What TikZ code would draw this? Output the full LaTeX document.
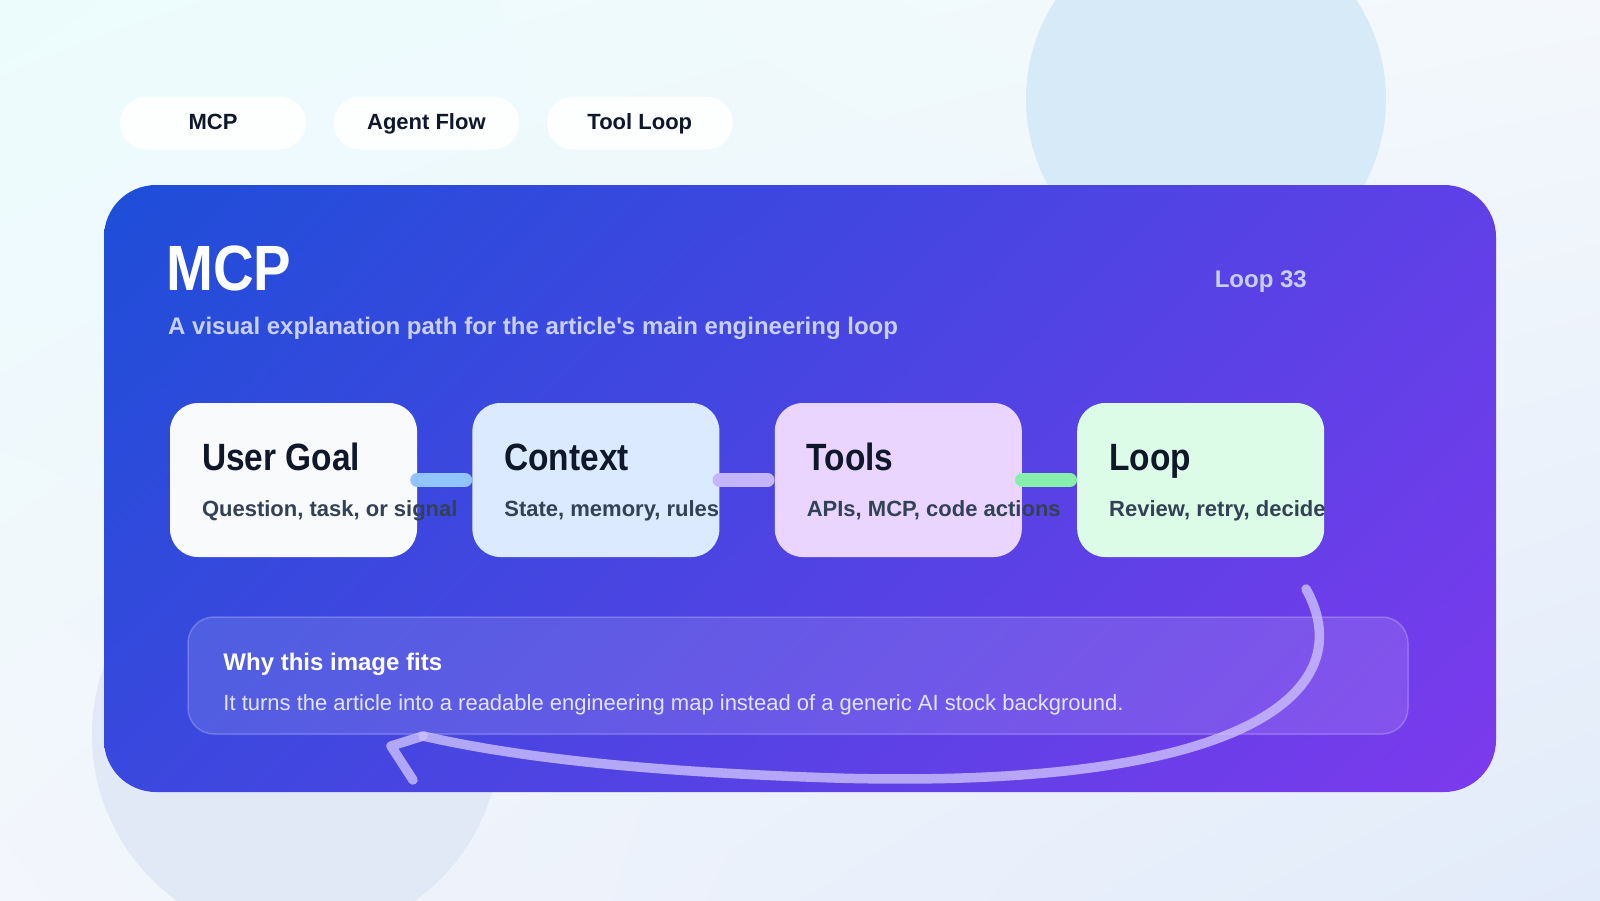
\documentclass[tikz,border=0pt]{standalone}
\usepackage{fontspec}
\setmainfont{Liberation Sans}
\newfontfamily\headfont{Liberation Sans}[FakeStretch=0.88]
\usetikzlibrary{positioning,shadings}

\definecolor{bgUL}{RGB}{236,252,253}
\definecolor{bgUR}{RGB}{244,248,252}
\definecolor{bgLL}{RGB}{243,246,252}
\definecolor{bgLR}{RGB}{226,235,250}
\definecolor{blobA}{RGB}{214,235,247}
\definecolor{blobB}{RGB}{225,233,247}
\definecolor{panUL}{RGB}{29,78,216}
\definecolor{panUR}{RGB}{95,64,231}
\definecolor{panLL}{RGB}{58,72,222}
\definecolor{panLR}{RGB}{124,58,237}
\definecolor{ink}{RGB}{15,23,42}
\definecolor{slate}{RGB}{51,65,85}
\definecolor{lavtext}{RGB}{200,208,250}
\definecolor{softtext}{RGB}{226,228,255}
\definecolor{goalfill}{RGB}{248,250,252}
\definecolor{ctxfill}{RGB}{219,234,254}
\definecolor{toolfill}{RGB}{233,213,255}
\definecolor{loopfill}{RGB}{220,252,231}
\definecolor{linkA}{RGB}{147,197,253}
\definecolor{linkB}{RGB}{196,181,253}
\definecolor{linkC}{RGB}{134,239,172}
\definecolor{backline}{RGB}{204,192,253}

\begin{document}
\begin{tikzpicture}[x=1pt,y=-1pt,
    pill/.style={fill=white, fill opacity=0.92, text opacity=1, rounded corners=26.5pt,
      minimum width=186pt, minimum height=53pt, inner sep=0pt, text=ink,
      text height=16pt, text depth=4pt, font=\fontsize{22}{26}\selectfont\bfseries},
    card/.style={rounded corners=28pt, minimum width=247pt, minimum height=154pt, inner sep=0pt},
    cardtitle/.style={anchor=base west, inner sep=0pt, text=ink,
      font=\headfont\bfseries\fontsize{38}{44}\selectfont},
    cardtext/.style={anchor=base west, inner sep=0pt, text=slate,
      font=\fontsize{22}{26}\selectfont\bfseries},
    link/.style={line width=14pt, line cap=round, shorten >=7pt},
    backarrow/.style={draw=backline, draw opacity=0.8, line width=9.5pt, line cap=round, line join=round}]
    \useasboundingbox (0,0) rectangle (1600,900);
    \shade[upper left=bgUL, upper right=bgUR, lower left=bgLL, lower right=bgLR] (0,0) rectangle (1600,900);
    \fill[blobA] (1206,99) circle[radius=180pt];
    \fill[blobB] (296,735) circle[radius=204pt];

    \node[pill] (tagmcp) at (213,123) {MCP};
    \node[pill, right=27pt of tagmcp] (tagflow) {Agent Flow};
    \node[pill, right=27pt of tagflow] (tagloop) {Tool Loop};

    \node[rounded corners=52pt, minimum width=1392pt, minimum height=607pt, inner sep=0pt,
      upper left=panUL, upper right=panUR, lower left=panLL, lower right=panLR] (panel) at (800,488.5) {};

    \node[anchor=base west, inner sep=0pt, text=white, font=\headfont\bfseries\fontsize{64}{70}\selectfont] (title) at (166,290) {MCP};
    \node[anchor=base west, inner sep=0pt, text=lavtext, font=\fontsize{24}{28}\selectfont\bfseries] (subtitle) at (168,334)
      {A visual explanation path for the article\textquotesingle s main engineering loop};
    \node[anchor=base east, inner sep=0pt, text=lavtext, font=\fontsize{24}{28}\selectfont\bfseries] (counter) at (1307,287) {Loop 33};

    \node[card, fill=goalfill] (goal) at (293.5,480) {};
    \node[card, fill=ctxfill, right=55pt of goal] (ctx) {};
    \node[card, fill=toolfill, right=55pt of ctx] (tools) {};
    \node[card, fill=loopfill, right=55pt of tools] (loop) {};

    \draw[link, linkA] (goal.east) -- (ctx.west);
    \draw[link, linkB] (ctx.east) -- (tools.west);
    \draw[link, linkC] (tools.east) -- (loop.west);

    \node[cardtitle] (goalT) at ([xshift=32pt, yshift=-68pt]goal.north west) {User Goal};
    \node[cardtext] (goalB) at ([xshift=32pt, yshift=-114pt]goal.north west) {Question, task, or signal};
    \node[cardtitle] (ctxT) at ([xshift=32pt, yshift=-68pt]ctx.north west) {Context};
    \node[cardtext] (ctxB) at ([xshift=32pt, yshift=-114pt]ctx.north west) {State, memory, rules};
    \node[cardtitle] (toolsT) at ([xshift=32pt, yshift=-68pt]tools.north west) {Tools};
    \node[cardtext] (toolsB) at ([xshift=32pt, yshift=-114pt]tools.north west) {APIs, MCP, code actions};
    \node[cardtitle] (loopT) at ([xshift=32pt, yshift=-68pt]loop.north west) {Loop};
    \node[cardtext] (loopB) at ([xshift=32pt, yshift=-114pt]loop.north west) {Review, retry, decide};

    \node[rounded corners=26pt, minimum width=1220pt, minimum height=117pt, inner sep=0pt,
      fill=white, fill opacity=0.12, draw=white, draw opacity=0.22, line width=1.5pt] (why) at (798,675.5) {};
    \node[anchor=base west, inner sep=0pt, text=white, font=\fontsize{24}{28}\selectfont\bfseries] (whyT)
      at ([xshift=36pt, yshift=-54pt]why.north west) {Why this image fits};
    \node[anchor=base west, inner sep=0pt, text=softtext, font=\fontsize{22}{26}\selectfont] (whyB)
      at ([xshift=36pt, yshift=-94pt]why.north west)
      {It turns the article into a readable engineering map instead of a generic AI stock background.};

    \coordinate (back0) at (1306,589);
    \coordinate (back1) at (835,778);
    \coordinate (back2) at (423,736);
    \coordinate (hook1) at (391,746);
    \coordinate (hook2) at (413,780);
    \draw[backarrow] (back0) .. controls (1362,690) and (1250,790) .. (back1)
      .. controls (650,772) and (520,758) .. (back2);
    \draw[backarrow] (back2) -- (hook1) -- (hook2);
  \end{tikzpicture}
\end{document}
